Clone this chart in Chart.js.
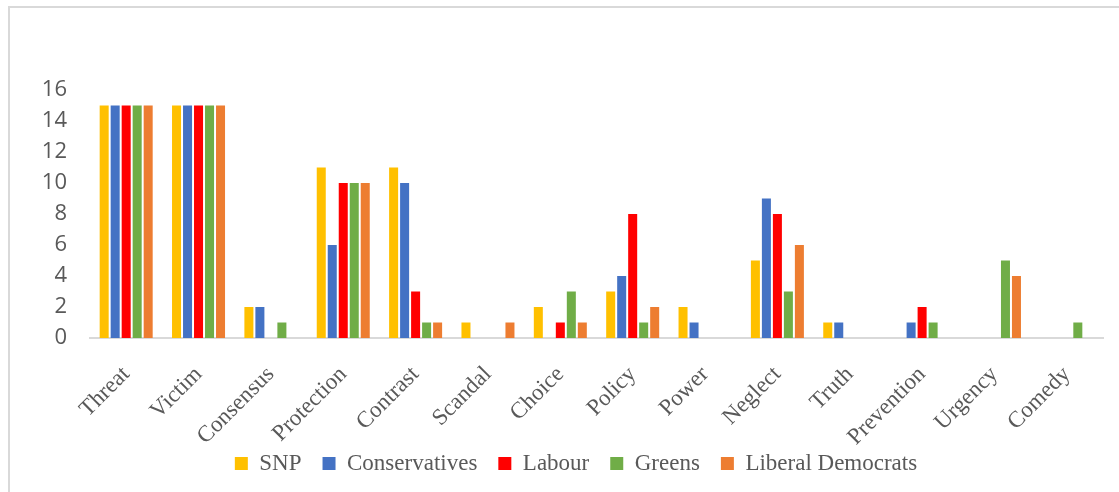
<!DOCTYPE html>
<html>
<head>
<meta charset="utf-8">
<script src="https://cdn.jsdelivr.net/npm/chart.js@4.4.0/dist/chart.umd.min.js"></script>
<style>
    html, body { margin: 0; padding: 0; background: #fff; overflow: hidden; }
    #frame {
        position: absolute; left: 8px; top: 6px; width: 1200px; height: 600px;
        border: 2px solid #d9d9d9; box-sizing: border-box;
    }
    #chart { position: absolute; left: 0; top: 0; }
</style>
</head>
<body>
<div id="frame"></div>
<canvas id="chart" width="1119" height="492"></canvas>
<script>
// Categorías (palabras clave) y conteos por partido
const categories = ["Threat", "Victim", "Consensus", "Protection", "Contrast", "Scandal", "Choice",
    "Policy", "Power", "Neglect", "Truth", "Prevention", "Urgency", "Comedy"];
const snp           = [15, 15, 2, 11, 11, 1, 2, 3, 2, 5, 1, 0, 0, 0];
const conservatives = [15, 15, 2, 6, 10, 0, 0, 4, 1, 9, 1, 1, 0, 0];
const labour        = [15, 15, 0, 10, 3, 0, 1, 8, 0, 8, 0, 2, 0, 0];
const greens        = [15, 15, 1, 10, 1, 0, 3, 1, 0, 3, 0, 1, 5, 1];
const libDems       = [15, 15, 0, 10, 1, 1, 1, 2, 0, 6, 0, 0, 4, 0];
const yTicks = [0, 2, 4, 6, 8, 10, 12, 14, 16];

function makeDataset(label, data, color) {
    return {
        label: label,
        data: data,
        backgroundColor: color,
        borderWidth: 0,
        categoryPercentage: 0.76,
        barPercentage: 0.82,
    };
}

// Tamaño fijo del eje y sin recortar las etiquetas
function fixSize(prop, value) {
    return (scale) => {
        scale[prop] = value;
        scale._computeLabelArea = () => undefined;
    };
}

const ctx = document.getElementById("chart").getContext("2d");
new Chart(ctx, {
    type: "bar",
    data: {
        labels: categories,
        datasets: [
            makeDataset("SNP", snp, "#FFC000"),
            makeDataset("Conservatives", conservatives, "#4472C4"),
            makeDataset("Labour", labour, "#FF0000"),
            makeDataset("Greens", greens, "#70AD47"),
            makeDataset("Liberal Democrats", libDems, "#ED7D31"),
        ],
    },
    options: {
        responsive: false,
        animation: false,
        layout: { padding: { left: 49, right: 16, top: 90, bottom: 7 } },
        plugins: {
            tooltip: { enabled: false },
            legend: {
                position: "bottom",
                labels: {
                    boxWidth: 13,
                    boxHeight: 13,
                    padding: 21,
                    color: "#595959",
                    font: { family: "'Liberation Serif'", size: 23 },
                },
            },
        },
        scales: {
            x: {
                grid: { display: false, drawTicks: false },
                border: { display: true, color: "#d9d9d9", width: 2 },
                ticks: {
                    autoSkip: false,
                    minRotation: 45,
                    maxRotation: 45,
                    padding: 23,
                    color: "#595959",
                    font: { family: "'Liberation Serif'", size: 23 },
                },
                afterFit: fixSize("height", 93),
            },
            y: {
                min: 0,
                max: 16,
                grid: { display: false, drawTicks: false },
                border: { display: false },
                afterBuildTicks: (scale) => { scale.ticks = yTicks.map((v) => ({ value: v })); },
                ticks: {
                    autoSkip: false,
                    padding: 23,
                    color: "#595959",
                    font: { family: "'Open Sans'", size: 22 },
                },
                afterFit: fixSize("width", 41),
            },
        },
    },
});
</script>
</body>
</html>
